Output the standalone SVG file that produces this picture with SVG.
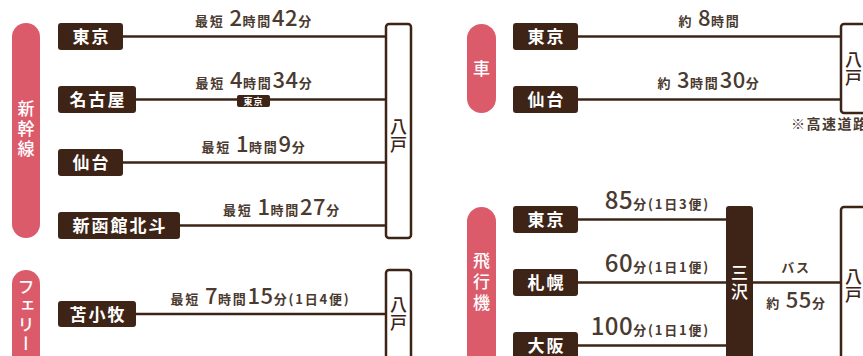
<svg xmlns="http://www.w3.org/2000/svg" width="863" height="356" viewBox="0 0 863 356">
<style>
.pill{fill:#dc5b6b}
.pt{fill:#fff;font-family:"Noto Sans CJK JP","Noto Sans",sans-serif;font-size:17px;font-weight:500;text-anchor:middle;writing-mode:vertical-rl}
.node rect{fill:#3e2416}
.nt{fill:#fff;font-family:"Noto Sans CJK JP","Noto Sans",sans-serif;font-size:17px;font-weight:700;text-anchor:middle;letter-spacing:2px}
.hb{fill:#fff;stroke:#3e2416;stroke-width:2.5}
.ht{fill:#3e2416;font-family:"Noto Sans CJK JP","Noto Sans",sans-serif;font-size:17px;font-weight:500;text-anchor:middle;writing-mode:vertical-rl;letter-spacing:1px}
.ln{stroke:#3e2416;stroke-width:2.5;fill:none}
.lb{fill:#4a3a30;font-family:"Noto Sans CJK JP","Noto Sans",sans-serif;font-size:13px;font-weight:700;text-anchor:middle;letter-spacing:1.8px}
.big{font-size:22px;font-weight:500;letter-spacing:0.5px}
.big2{font-size:24px;font-weight:500;letter-spacing:0.5px}
</style>
<g id="connectors">
<line class="ln" x1="123" y1="36.5" x2="386" y2="36.5"/>
<line class="ln" x1="136" y1="99.5" x2="386" y2="99.5"/>
<line class="ln" x1="123" y1="162.5" x2="386" y2="162.5"/>
<line class="ln" x1="180" y1="225.5" x2="386" y2="225.5"/>
<line class="ln" x1="136" y1="314" x2="386" y2="314"/>
<line class="ln" x1="578" y1="36.5" x2="841" y2="36.5"/>
<line class="ln" x1="578" y1="99.5" x2="841" y2="99.5"/>
<line class="ln" x1="578" y1="219.5" x2="727" y2="219.5"/>
<line class="ln" x1="578" y1="282.5" x2="727" y2="282.5"/>
<line class="ln" x1="578" y1="345.5" x2="727" y2="345.5"/>
<line class="ln" x1="752" y1="282.5" x2="841" y2="282.5"/>
</g>
<g id="labels">
<text class="lb" x="254" y="26">最短 <tspan class="big">2</tspan>時間<tspan class="big">42</tspan>分</text>
<text class="lb" x="254.5" y="88">最短 <tspan class="big">4</tspan>時間<tspan class="big">34</tspan>分</text>
<g id="via-tokyo"><rect x="237" y="95" width="33" height="12" rx="2" fill="#3e2416"/><text x="253.5" y="104.5" fill="#fff" font-family="Noto Sans CJK JP,sans-serif" font-size="9" font-weight="700" text-anchor="middle" letter-spacing="1">東京</text></g>
<text class="lb" x="254" y="152">最短 <tspan class="big">1</tspan>時間<tspan class="big">9</tspan>分</text>
<text class="lb" x="282" y="215">最短 <tspan class="big">1</tspan>時間<tspan class="big">27</tspan>分</text>
<text class="lb" x="260.5" y="304">最短 <tspan class="big">7</tspan>時間<tspan class="big">15</tspan>分(1日4便)</text>
<text class="lb" x="709.5" y="26">約 <tspan class="big">8</tspan>時間</text>
<text class="lb" x="709" y="88">約 <tspan class="big">3</tspan>時間<tspan class="big">30</tspan>分</text>
<text class="lb" x="791" y="129" style="text-anchor:start;font-size:14px;letter-spacing:1.5px">※高速道路</text>
<text class="lb" x="710" y="209" style="text-anchor:end"><tspan class="big2">85</tspan>分(1日3便)</text>
<text class="lb" x="710" y="272" style="text-anchor:end"><tspan class="big2">60</tspan>分(1日1便)</text>
<text class="lb" x="710" y="335" style="text-anchor:end"><tspan class="big2">100</tspan>分(1日1便)</text>
<text class="lb" x="796" y="272">バス</text>
<text class="lb" x="796.5" y="308">約 <tspan class="big">55</tspan>分</text>
</g>
<g id="cat-shinkansen"><rect class="pill" x="12" y="23" width="28" height="215" rx="14"/><text class="pt" x="26" y="130" style="letter-spacing:3px">新幹線</text></g>
<g id="cat-ferry"><rect class="pill" x="12" y="270" width="28" height="140" rx="14"/><text class="pt" x="26" y="278" style="text-anchor:start;letter-spacing:2px">フェリー</text></g>
<g id="cat-car"><rect class="pill" x="467" y="24" width="29" height="89" rx="14.5"/><text class="pt" x="481.5" y="68.5">車</text></g>
<g id="cat-plane"><rect class="pill" x="467" y="207" width="29" height="200" rx="14.5"/><text class="pt" x="481.5" y="284" style="letter-spacing:4px">飛行機</text></g>
<g id="n-tokyo1" class="node"><rect x="58" y="23" width="65" height="27" rx="3"/><text class="nt" x="91.5" y="43">東京</text></g>
<g id="n-nagoya" class="node"><rect x="58" y="86" width="78" height="27" rx="3"/><text class="nt" x="98" y="106">名古屋</text></g>
<g id="n-sendai1" class="node"><rect x="58" y="149" width="65" height="27" rx="3"/><text class="nt" x="91.5" y="169">仙台</text></g>
<g id="n-hakodate" class="node"><rect x="58" y="212" width="122" height="27" rx="3"/><text class="nt" x="120" y="232">新函館北斗</text></g>
<g id="n-tomakomai" class="node"><rect x="58" y="301" width="78" height="26" rx="3"/><text class="nt" x="98" y="320.5">苫小牧</text></g>
<g id="n-tokyo2" class="node"><rect x="513" y="23" width="65" height="27" rx="3"/><text class="nt" x="546.5" y="43">東京</text></g>
<g id="n-sendai2" class="node"><rect x="513" y="86" width="65" height="27" rx="3"/><text class="nt" x="546.5" y="106">仙台</text></g>
<g id="n-tokyo3" class="node"><rect x="513" y="206" width="65" height="27" rx="3"/><text class="nt" x="546.5" y="226">東京</text></g>
<g id="n-sapporo" class="node"><rect x="513" y="269" width="65" height="27" rx="3"/><text class="nt" x="546.5" y="289">札幌</text></g>
<g id="n-osaka" class="node"><rect x="513" y="332" width="65" height="30" rx="3"/><text class="nt" x="546.5" y="352">大阪</text></g>
<g id="n-misawa" class="node"><rect x="726" y="206" width="27" height="160" rx="3"/><text class="pt" x="739.5" y="283" style="letter-spacing:2px">三沢</text></g>
<g id="n-hachinohe1"><rect class="hb" x="386" y="24" width="25" height="214" rx="3"/><text class="ht" x="398.5" y="136.5">八戸</text></g>
<g id="n-hachinohe2"><rect class="hb" x="386" y="270" width="25" height="120" rx="3"/><text class="ht" x="398.5" y="314.5">八戸</text></g>
<g id="n-hachinohe3"><rect class="hb" x="841" y="24" width="40" height="89" rx="3"/><text class="ht" x="853.5" y="69.5">八戸</text></g>
<g id="n-hachinohe4"><rect class="hb" x="841" y="207" width="40" height="160" rx="3"/><text class="ht" x="853.5" y="286.5">八戸</text></g>
</svg>
